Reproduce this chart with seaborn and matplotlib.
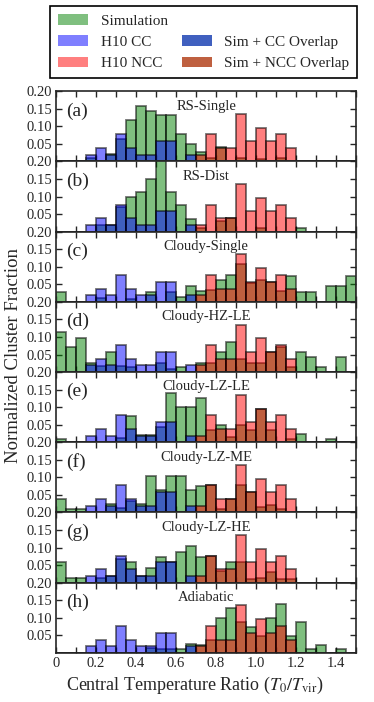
import matplotlib
matplotlib.use("Agg")
import matplotlib.pyplot as plt
from matplotlib.patches import Patch
from matplotlib.ticker import MultipleLocator, FuncFormatter
import numpy as np
import seaborn as sns

# bins of width 0.05 from 0 to 1.5
centers = np.arange(30) * 0.05 + 0.025

# observed H10 fractions (same in every panel)
h10_cc = [0, 0, 0, 0.019, 0.038, 0.019, 0.077, 0.038, 0.019, 0.019,
          0.058, 0.058, 0, 0.019, 0, 0, 0, 0, 0, 0,
          0, 0, 0, 0, 0, 0, 0, 0, 0, 0]
h10_ncc = [0, 0, 0, 0, 0, 0, 0, 0, 0, 0,
           0, 0, 0, 0, 0.019, 0.077, 0.038, 0.038, 0.135, 0.058,
           0.096, 0.058, 0.077, 0.038, 0, 0, 0, 0, 0, 0]

# simulation fractions per model
sim_rs_single = [0, 0, 0, 0.010, 0, 0.020, 0.065, 0.118, 0.158, 0.144,
                 0.131, 0.131, 0.078, 0.051, 0.026, 0.010, 0.040, 0, 0.010, 0,
                 0.008, 0, 0.010, 0, 0, 0, 0, 0, 0, 0]
sim_rs_dist = [0, 0, 0, 0, 0.020, 0.020, 0.070, 0.100, 0.114, 0.150,
               0.210, 0.114, 0.076, 0.036, 0.010, 0, 0.030, 0.038, 0, 0,
               0.010, 0, 0, 0, 0.010, 0, 0, 0, 0, 0]
sim_cloudy_single = [0.029, 0, 0, 0, 0.010, 0, 0, 0.008, 0, 0.029,
                     0, 0.029, 0.015, 0.046, 0.031, 0.035, 0.061, 0.077, 0.107, 0.054,
                     0.061, 0.058, 0.032, 0.075, 0.029, 0.029, 0, 0.046, 0.046, 0.075]
sim_cloudy_hz_le = [0.115, 0.071, 0.098, 0.027, 0.017, 0.056, 0.017, 0.013, 0, 0,
                    0.027, 0.010, 0.013, 0, 0.027, 0.027, 0.056, 0.085, 0.037, 0.027,
                    0.027, 0.056, 0.071, 0.013, 0.056, 0.042, 0.013, 0, 0.042, 0]
sim_cloudy_lz_le = [0.010, 0, 0, 0, 0, 0, 0.013, 0.075, 0.020, 0.020,
                    0.043, 0.140, 0.100, 0.100, 0.126, 0.036, 0.050, 0.015, 0.050, 0.036,
                    0.094, 0.036, 0, 0.010, 0.024, 0, 0, 0.010, 0, 0]
sim_cloudy_lz_me = [0.039, 0.011, 0.011, 0, 0, 0.025, 0.013, 0.032, 0.025, 0.105,
                    0.064, 0.105, 0.105, 0.064, 0.076, 0.077, 0.010, 0.038, 0.077, 0.058,
                    0.016, 0.022, 0.010, 0, 0, 0, 0, 0, 0, 0]
sim_cloudy_lz_he = [0.058, 0.014, 0.014, 0, 0.012, 0.020, 0.067, 0.058, 0.020, 0.043,
                    0.074, 0.058, 0.088, 0.104, 0.074, 0.077, 0.034, 0.058, 0.058, 0.010,
                    0.014, 0.029, 0.010, 0.010, 0, 0, 0, 0, 0, 0]
sim_adiabatic = [0, 0, 0, 0, 0, 0, 0, 0, 0, 0.015,
                 0.012, 0.012, 0.012, 0.024, 0.022, 0.037, 0.100, 0.127, 0.088, 0.075,
                 0.049, 0.100, 0.139, 0.049, 0.088, 0.012, 0.022, 0, 0.012, 0]

models = ["RS-Single", "RS-Dist", "Cloudy-Single", "Cloudy-HZ-LE",
          "Cloudy-LZ-LE", "Cloudy-LZ-ME", "Cloudy-LZ-HE", "Adiabatic"]
letters = ["(a)", "(b)", "(c)", "(d)", "(e)", "(f)", "(g)", "(h)"]
sims = [sim_rs_single, sim_rs_dist, sim_cloudy_single, sim_cloudy_hz_le,
        sim_cloudy_lz_le, sim_cloudy_lz_me, sim_cloudy_lz_he, sim_adiabatic]

sns.set_style("ticks")
plt.rcParams["font.family"] = ["Liberation Serif", "DejaVu Serif"]
plt.rcParams["mathtext.fontset"] = "stix"

fig, axes = plt.subplots(8, 1, figsize=(3.74, 7.02), dpi=100, sharex=True)
fig.subplots_adjust(left=0.15, right=0.952, top=0.870, bottom=0.070, hspace=0)

hist_kw = dict(binwidth=0.05, binrange=(0, 1.5), alpha=0.5,
               edgecolor=(0, 0, 0, 0.55), linewidth=1.3)
for ax, sim, name, lab in zip(axes, sims, models, letters):
    sns.histplot(x=centers, weights=np.array(sim), color="g", ax=ax, **hist_kw)
    sns.histplot(x=centers, weights=np.array(h10_cc), color="b", ax=ax, **hist_kw)
    sns.histplot(x=centers, weights=np.array(h10_ncc), color="r", ax=ax, **hist_kw)
    ax.set_xlim(0, 1.5)
    ax.set_ylim(0, 0.2)
    ax.set_ylabel("")
    ax.set_yticks([0.05, 0.10, 0.15, 0.20])
    ax.yaxis.set_major_formatter(FuncFormatter(lambda v, p: f"{v:.2f}"))
    ax.xaxis.set_major_locator(MultipleLocator(0.2))
    ax.xaxis.set_minor_locator(MultipleLocator(0.1))
    ax.xaxis.set_major_formatter(FuncFormatter(lambda v, p: "0" if abs(v) < 1e-9 else f"{v:.1f}"))
    ax.tick_params(which="both", direction="in", top=True, right=True,
                   length=4, width=1, labelsize=10.5, pad=3)
    for s in ax.spines.values():
        s.set_linewidth(1.2)
    ax.text(0.035, 0.72, lab, transform=ax.transAxes, fontsize=14,
            ha="left", va="center")
    ax.text(0.5, 0.79, name, transform=ax.transAxes, fontsize=10.5,
            ha="center", va="center")

fig.text(0.522, 0.024, r"Central Temperature Ratio ($T_0/T_{\rm vir}$)",
         ha="center", va="center", fontsize=13)
fig.text(0.035, 0.493, "Normalized Cluster Fraction", rotation=90,
         ha="center", va="center", fontsize=13.5)

handles = [
    Patch(facecolor="g", alpha=0.5, edgecolor="none", label="Simulation"),
    Patch(facecolor="b", alpha=0.5, edgecolor="none", label="H10 CC"),
    Patch(facecolor="r", alpha=0.5, edgecolor="none", label="H10 NCC"),
    Patch(visible=False, label=" "),
    Patch(facecolor=(0.25, 0.375, 0.75), edgecolor="none", label="Sim + CC Overlap"),
    Patch(facecolor=(0.75, 0.375, 0.25), edgecolor="none", label="Sim + NCC Overlap"),
]
leg = fig.legend(handles=handles, ncol=2, loc="upper left", mode="expand",
                 bbox_to_anchor=(0.134, 0.895, 0.821, 0.096), borderaxespad=0,
                 fontsize=11, fancybox=False, edgecolor="k", framealpha=1,
                 handlelength=2.0, labelspacing=0.5, columnspacing=1.0,
                 borderpad=0.5)
leg.get_frame().set_linewidth(1.2)

fig.savefig("out.png", dpi=100)
